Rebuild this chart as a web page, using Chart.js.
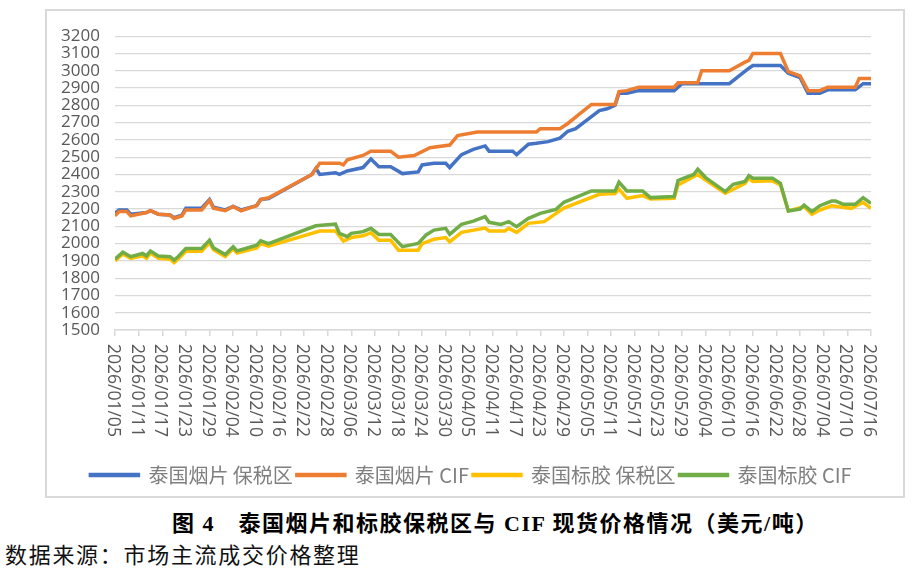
<!DOCTYPE html>
<html>
<head>
<meta charset="utf-8">
<script src="https://cdn.jsdelivr.net/npm/chart.js@4.4.1/dist/chart.umd.min.js"></script>
<style>
    body { margin: 0; background: #fff; width: 916px; height: 570px; position: relative; overflow: hidden; }
    #chart-box { position: absolute; left: 45px; top: 9px; width: 856px; height: 485px; border: 2px solid #d9d9d9; }
    #caption { position: absolute; left: 172px; top: 505px; font: bold 22px "Liberation Serif", "Noto Sans CJK SC", serif; letter-spacing: 1.5px; color: #000; white-space: nowrap; }
    #source { position: absolute; left: 5px; top: 537px; font: 22px "Noto Sans CJK SC", sans-serif; letter-spacing: 1.7px; color: #111; white-space: nowrap; }
</style>
</head>
<body>
<div id="chart-box"><canvas id="priceChart"></canvas></div>
<div id="caption">图 4　泰国烟片和标胶保税区与 CIF 现货价格情况（美元/吨）</div>
<div id="source">数据来源：市场主流成交价格整理</div>

<script>
const YEAR = 2026;

const seriesNames = ["泰国烟片 保税区", "泰国烟片 CIF", "泰国标胶 保税区", "泰国标胶 CIF"];

const tickLabels = [
    "2026/01/05", "2026/01/11", "2026/01/17", "2026/01/23", "2026/01/29", "2026/02/04",
    "2026/02/10", "2026/02/16", "2026/02/22", "2026/02/28", "2026/03/06", "2026/03/12",
    "2026/03/18", "2026/03/24", "2026/03/30", "2026/04/05", "2026/04/11", "2026/04/17",
    "2026/04/23", "2026/04/29", "2026/05/05", "2026/05/11", "2026/05/17", "2026/05/23",
    "2026/05/29", "2026/06/04", "2026/06/10", "2026/06/16", "2026/06/22", "2026/06/28",
    "2026/07/04", "2026/07/10", "2026/07/16"
];

// 泰国烟片 保税区
const sheetBondedDates = [
    "01/05", "01/06", "01/08", "01/09", "01/13", "01/14", "01/16", "01/19", "01/20", "01/22",
    "01/23", "01/27", "01/29", "01/30", "02/02", "02/04", "02/06", "02/10", "02/11", "02/13",
    "02/24", "02/25", "02/26", "03/02", "03/03", "03/05", "03/09", "03/11", "03/13", "03/16",
    "03/19", "03/23", "03/24", "03/27", "03/30", "03/31", "04/03", "04/06", "04/09", "04/10",
    "04/16", "04/17", "04/20", "04/22", "04/25", "04/28", "04/30", "05/02", "05/08", "05/10",
    "05/12", "05/13", "05/15", "05/18", "05/27", "05/29", "06/10", "06/15", "06/16", "06/23",
    "06/25", "06/28", "06/30", "07/03", "07/05", "07/12", "07/14", "07/16"
];
const sheetBondedPrices = [
    2175, 2195, 2195, 2170, 2180, 2190, 2170, 2165, 2150, 2165,
    2205, 2205, 2255, 2210, 2195, 2215, 2195, 2220, 2255, 2260,
    2400, 2435, 2400, 2410, 2400, 2420, 2440, 2490, 2445, 2445,
    2405, 2415, 2455, 2465, 2465, 2440, 2515, 2545, 2565, 2535,
    2535, 2515, 2575, 2580, 2590, 2610, 2650, 2665, 2770, 2780,
    2800, 2870, 2870, 2885, 2885, 2925, 2925, 3015, 3030, 3030,
    2985, 2960, 2870, 2870, 2890, 2890, 2925, 2925
];

// 泰国烟片 CIF
const sheetCifDates = [
    "01/05", "01/06", "01/08", "01/09", "01/13", "01/14", "01/16", "01/19", "01/20", "01/22",
    "01/23", "01/27", "01/29", "01/30", "02/02", "02/04", "02/06", "02/10", "02/11", "02/13",
    "02/24", "02/26", "03/03", "03/04", "03/05", "03/09", "03/11", "03/16", "03/18", "03/22",
    "03/26", "03/31", "04/02", "04/07", "04/22", "04/23", "04/28", "04/30", "05/03", "05/06",
    "05/12", "05/13", "05/15", "05/18", "05/27", "05/28", "06/02", "06/03", "06/10", "06/14",
    "06/15", "06/16", "06/23", "06/25", "06/28", "06/30", "07/03", "07/05", "07/12", "07/13",
    "07/16"
];
const sheetCifPrices = [
    2160, 2185, 2185, 2160, 2180, 2190, 2170, 2165, 2145, 2160,
    2195, 2195, 2250, 2205, 2190, 2215, 2190, 2220, 2255, 2265,
    2400, 2465, 2465, 2455, 2485, 2510, 2535, 2535, 2500, 2510,
    2555, 2570, 2625, 2645, 2645, 2665, 2665, 2695, 2750, 2805,
    2805, 2880, 2885, 2905, 2905, 2930, 2930, 3000, 3000, 3050,
    3060, 3100, 3100, 2995, 2970, 2885, 2885, 2905, 2905, 2955,
    2955
];

// 泰国标胶 保税区
const rssBondedDates = [
    "01/05", "01/07", "01/09", "01/12", "01/13", "01/14", "01/16", "01/19", "01/20", "01/21",
    "01/23", "01/27", "01/29", "01/30", "02/02", "02/04", "02/05", "02/10", "02/11", "02/13",
    "02/26", "03/02", "03/04", "03/06", "03/09", "03/11", "03/13", "03/16", "03/18", "03/23",
    "03/24", "03/27", "03/30", "03/31", "04/03", "04/09", "04/10", "04/14", "04/15", "04/17",
    "04/20", "04/24", "04/29", "05/08", "05/12", "05/13", "05/15", "05/19", "05/21", "05/27",
    "05/28", "06/02", "06/04", "06/09", "06/14", "06/15", "06/16", "06/21", "06/23", "06/25",
    "06/29", "07/01", "07/03", "07/06", "07/11", "07/14", "07/16"
];
const rssBondedPrices = [
    1900, 1940, 1915, 1930, 1915, 1945, 1915, 1910, 1890, 1910,
    1955, 1955, 2005, 1965, 1925, 1970, 1945, 1975, 2000, 1985,
    2073, 2073, 2015, 2035, 2045, 2063, 2020, 2020, 1962, 1962,
    2000, 2025, 2035, 2010, 2065, 2090, 2073, 2073, 2088, 2065,
    2117, 2127, 2205, 2285, 2290, 2315, 2262, 2278, 2258, 2262,
    2340, 2400, 2368, 2291, 2349, 2378, 2359, 2363, 2339, 2189,
    2214, 2169, 2194, 2219, 2204, 2239, 2204
];

// 泰国标胶 CIF
const rssCifDates = [
    "01/05", "01/07", "01/09", "01/12", "01/13", "01/14", "01/16", "01/19", "01/20", "01/21",
    "01/23", "01/27", "01/29", "01/30", "02/02", "02/04", "02/05", "02/10", "02/11", "02/13",
    "02/25", "03/02", "03/03", "03/05", "03/06", "03/09", "03/11", "03/13", "03/16", "03/19",
    "03/23", "03/25", "03/27", "03/30", "03/31", "04/03", "04/06", "04/09", "04/10", "04/13",
    "04/15", "04/17", "04/20", "04/23", "04/27", "04/29", "05/06", "05/12", "05/13", "05/15",
    "05/19", "05/21", "05/27", "05/28", "05/29", "06/01", "06/02", "06/04", "06/09", "06/11",
    "06/14", "06/15", "06/16", "06/21", "06/23", "06/25", "06/28", "06/29", "07/01", "07/03",
    "07/06", "07/07", "07/09", "07/12", "07/14", "07/16"
];
const rssCifPrices = [
    1910, 1950, 1924, 1943, 1929, 1957, 1928, 1924, 1904, 1924,
    1972, 1972, 2020, 1976, 1937, 1982, 1957, 1991, 2016, 2000,
    2103, 2113, 2059, 2040, 2059, 2069, 2088, 2053, 2053, 1982,
    2001, 2050, 2078, 2088, 2053, 2111, 2130, 2156, 2123, 2111,
    2127, 2098, 2146, 2175, 2198, 2239, 2305, 2305, 2355, 2305,
    2305, 2266, 2272, 2365, 2375, 2400, 2430, 2382, 2301, 2343,
    2359, 2393, 2378, 2378, 2349, 2189, 2200, 2223, 2185, 2219,
    2246, 2246, 2227, 2227, 2266, 2233
];

const lineColors = ["#4472C4", "#ED7D31", "#FFC000", "#70AD47"];

const startDay = Date.UTC(YEAR, 0, 5);

function dayIndex(label) {
    const parts = label.split("/").map(Number);
    const month = parts[parts.length - 2];
    const day = parts[parts.length - 1];
    return (Date.UTC(YEAR, month - 1, day) - startDay) / 86400000;
}

function toPoints(dates, values) {
    return dates.map((d, i) => ({ x: dayIndex(d), y: values[i] }));
}

const allSeries = [
    toPoints(sheetBondedDates, sheetBondedPrices),
    toPoints(sheetCifDates, sheetCifPrices),
    toPoints(rssBondedDates, rssBondedPrices),
    toPoints(rssCifDates, rssCifPrices)
];

// x labels read top to bottom, so they are drawn here instead of by the axis
const dateLabelPlugin = {
    id: "dateLabels",
    afterDraw(chart) {
        const ctx = chart.ctx;
        const xScale = chart.scales.x;
        const bottom = chart.chartArea.bottom;
        ctx.save();
        ctx.font = '17.5px "Open Sans"';
        ctx.fillStyle = "#595959";
        ctx.textAlign = "left";
        ctx.textBaseline = "middle";
        tickLabels.forEach(label => {
            const px = xScale.getPixelForValue(dayIndex(label));
            ctx.save();
            ctx.translate(px - 2, bottom + 14);
            ctx.rotate(Math.PI / 2);
            ctx.fillText(label, 0, 0);
            ctx.restore();
        });
        ctx.restore();
    }
};

const ctx = document.getElementById("priceChart").getContext("2d");

new Chart(ctx, {
    type: "line",
    data: {
        datasets: allSeries.map((points, i) => ({
            label: seriesNames[i],
            data: points,
            borderColor: lineColors[i],
            backgroundColor: lineColors[i],
            borderWidth: 3.5,
            pointRadius: 0,
            tension: 0,
            fill: false,
            order: 3 - i
        }))
    },
    options: {
        responsive: true,
        maintainAspectRatio: false,
        animation: false,
        layout: {
            padding: { left: 0, right: 8, top: 24, bottom: 1 }
        },
        scales: {
            x: {
                type: "linear",
                min: 0,
                max: 192,
                ticks: { stepSize: 6, display: false },
                grid: {
                    drawOnChartArea: false,
                    drawTicks: true,
                    tickLength: 6,
                    color: "#d9d9d9",
                    lineWidth: 1.5
                },
                border: { display: true, color: "#d9d9d9", width: 1.5 },
                afterFit: scale => { scale.height = 131; }
            },
            y: {
                min: 1500,
                max: 3200,
                ticks: {
                    stepSize: 100,
                    autoSkip: false,
                    padding: 15,
                    color: "#595959",
                    font: { family: "Open Sans", size: 17 },
                    callback: value => String(value)
                },
                grid: { color: "#d9d9d9", lineWidth: 1.3, drawTicks: false },
                border: { display: false },
                afterFit: scale => { scale.width = 68; }
            },
            // empty right margin inside the plot box
            yRight: {
                display: true,
                position: "right",
                min: 1500,
                max: 3200,
                ticks: { display: false },
                grid: { display: false, drawTicks: false },
                border: { display: false },
                afterFit: scale => { scale.width = 24; }
            }
        },
        plugins: {
            legend: {
                position: "bottom",
                labels: {
                    sort: (a, b) => a.datasetIndex - b.datasetIndex,
                    boxWidth: 48,
                    boxHeight: 1,
                    padding: 4,
                    color: "#7f7f7f",
                    font: { family: "Noto Sans CJK SC", size: 20 }
                }
            },
            tooltip: { enabled: false }
        }
    },
    plugins: [dateLabelPlugin]
});
</script>
</body>
</html>
